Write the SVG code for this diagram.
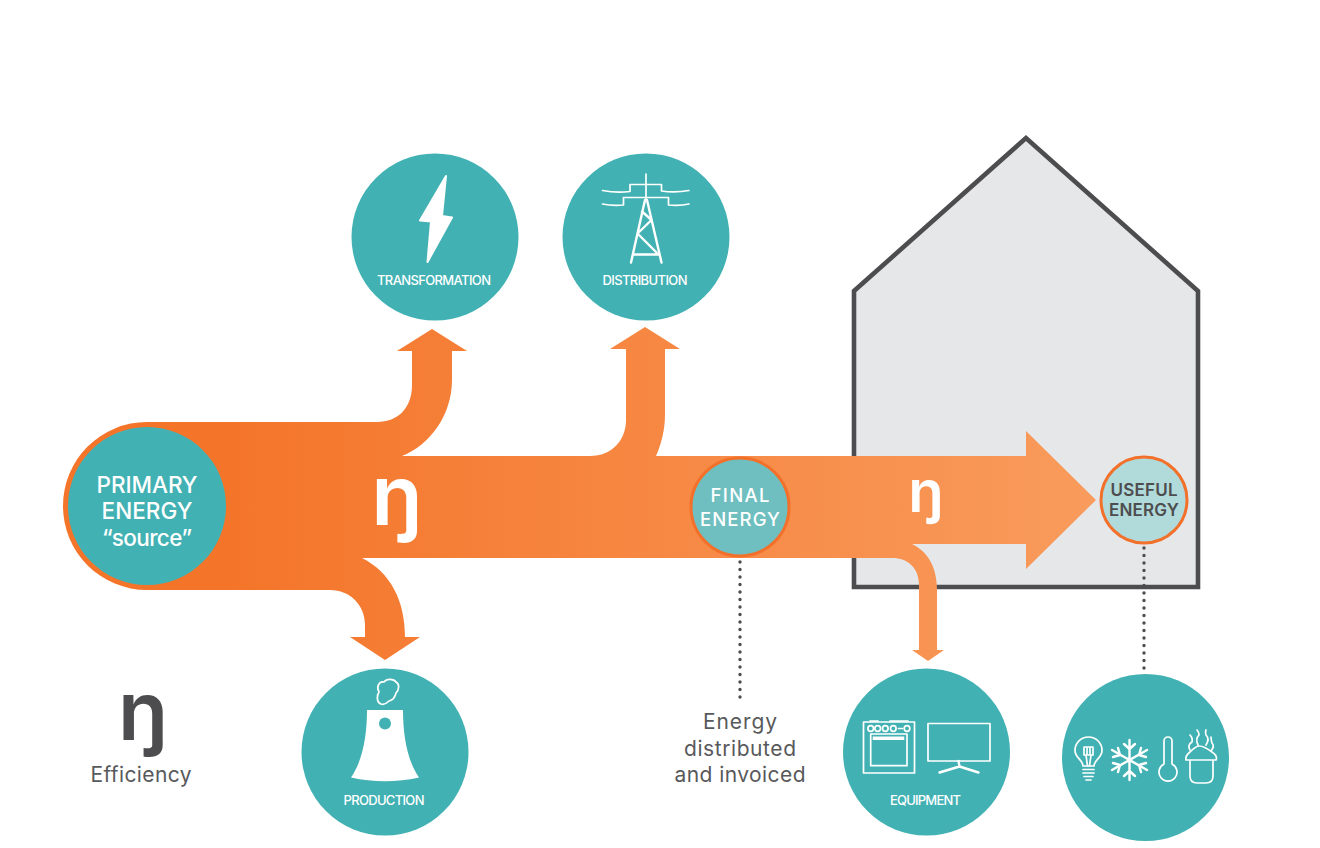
<svg xmlns="http://www.w3.org/2000/svg" width="1320" height="848" viewBox="0 0 1320 848">
<style>
text{font-family:"Inter","Noto Sans","Liberation Sans",sans-serif;text-anchor:middle}
.teal{fill:#42b1b3}
.w{fill:#fff}
.lab{fill:#fff;font-size:13px;font-weight:500}
.big{fill:#fff;font-size:22.500px;font-weight:500}
.mid{fill:#fff;font-size:18.500px;font-weight:500}
.use{fill:#4d4d4f;font-size:17px;font-weight:600}
.cap{fill:#58595b;font-size:21px}
.eta{font-weight:600}
.ln{fill:none;stroke:#fff;stroke-width:2.4;stroke-linecap:round;stroke-linejoin:round}
.thin{fill:none;stroke:#fff;stroke-width:1.7;stroke-linecap:round;stroke-linejoin:round}
.dots{fill:none;stroke:#4d4d4f;stroke-width:3.400;stroke-linecap:round;stroke-dasharray:0 7.5}
</style>
<defs>
<linearGradient id="flow" gradientUnits="userSpaceOnUse" x1="230" y1="0" x2="1090" y2="0">
<stop offset="0" stop-color="#f4752a"/><stop offset="1" stop-color="#f99b5c"/>
</linearGradient>
</defs>

<g id="house"><path d="M854 291L1026 138L1198 291V587H854Z" fill="#e6e7e8" stroke="#4d4d4f" stroke-width="4.600"/></g>

<g id="connectors">
<path d="M147 422H377C398 422 412 408 412 385V351H397L432 329L467 351H452V380C452 415 430 445 402 456H590C612 456 626 440 626 420V349H610L645 327L680 349H665V415C665 430 661 445 656 456H1026V431L1096 500L1026 569V544H912C928 552 937 567 937 590V650H944L928 661L912 650H919V585C919 568 908 558 892 558H362C390 572 405 600 405 637H420L385 660L350 637H365V625C365 605 350 590 330 590H147Z" fill="url(#flow)"/>
<path class="dots" d="M740 562V702"/>
<path class="dots" d="M1144 548V670"/>
</g>

<g id="primary-energy">
<circle cx="147" cy="506" r="84" fill="#f4752a"/>
<circle class="teal" cx="147" cy="506" r="79"/>
<text class="big" x="147" y="493" textLength="101">PRIMARY</text>
<text class="big" x="147" y="519" textLength="91">ENERGY</text>
<text class="big" x="147" y="546" textLength="90">“source”</text>
</g>

<g id="eta-1"><text class="eta w" x="397" y="525" font-size="84">ŋ</text></g>
<g id="eta-2"><text class="eta w" x="926" y="512" font-size="58">ŋ</text></g>

<g id="final-energy">
<circle cx="740" cy="507" r="49" fill="#6fbfc0" stroke="#f2702a" stroke-width="3"/>
<text class="mid" x="740" y="502" textLength="59">FINAL</text>
<text class="mid" x="740" y="526" textLength="80">ENERGY</text>
</g>

<g id="useful-energy">
<circle cx="1144" cy="500" r="43" fill="#b1dada" stroke="#f2702a" stroke-width="3"/>
<text class="use" x="1144" y="496" textLength="67">USEFUL</text>
<text class="use" x="1144" y="516" textLength="70">ENERGY</text>
</g>

<g id="transformation">
<circle class="teal" cx="435" cy="237" r="83.5"/>
<path class="w" stroke="#fff" stroke-width="2" stroke-linejoin="round" d="M446 176L420 220.5L431 221.5L427.5 262L452 217.5L442 216Z"/>
<text class="lab" x="434" y="285" textLength="114">TRANSFORMATION</text>
</g>

<g id="distribution">
<circle class="teal" cx="646" cy="237" r="83.5"/>
<path class="thin" stroke-width="2" d="M646 174V200M602.5 190.5Q616 193 630 191.5V184.5H661.5V191Q675 193 689 190.5M602.5 204Q612 206 623.5 205V197.5H668.5V205Q680 206 689 204"/>
<path class="ln" d="M645 200L631 262.500M647 200L661.500 262.500M633 254.500H659.500M642 211.500L651.500 220L637.500 233.500L656.500 252.500"/>
<text class="lab" x="645" y="285" textLength="85">DISTRIBUTION</text>
</g>

<g id="production">
<circle class="teal" cx="385" cy="752" r="83.5"/>
<path class="w" d="M367 710H403C403 735 407 760 419 777.500Q385 785 351 777.500C363 760 367 735 367 710Z"/>
<circle class="teal" cx="385" cy="723.500" r="6"/>
<path class="thin" stroke-width="2" d="M381 704C376 702 377 695 379 692C376 687 379 681 384 682C387 678 394 679 396 682C400 684 399 690 396 693C395 698 393 700 389 701C386 704 384 705 381 704Z"/>
<text class="lab" x="384" y="805" textLength="81">PRODUCTION</text>
</g>

<g id="equipment">
<circle class="teal" cx="926.500" cy="752" r="83.500"/>
<rect class="thin" x="863.500" y="722" width="51" height="51"/>
<path class="thin" d="M870 721H878M890 721H908M898.500 728.500H902.500"/>
<g class="thin" stroke-width="1.300"><circle cx="870.700" cy="728.500" r="2.800"/><circle cx="877.700" cy="728.500" r="2.800"/><circle cx="885.300" cy="728.500" r="2.800"/><circle cx="893.300" cy="728.500" r="2.800"/><circle cx="907" cy="728.500" r="2.800"/></g>
<rect class="thin" x="870.700" y="734" width="36.300" height="31.700"/>
<rect class="w" x="872.700" y="736.500" width="31.600" height="3.500"/>
<rect class="thin" x="928" y="723.500" width="62" height="37.500"/>
<path class="ln" d="M958.500 761L959.500 766.500M939.500 772.500L959.500 766.500L978.500 772.500"/>
<text class="lab" x="925.500" y="805" textLength="71">EQUIPMENT</text>
</g>

<g id="useful-uses">
<circle class="teal" cx="1145.500" cy="757.500" r="83.500"/>
<path class="thin" d="M1083 766C1083 760 1075 758 1075 750.500A13.500 13.500 0 0 1 1102 750.500C1102 758 1094 760 1094 766Z"/>
<path class="thin" stroke-width="1.300" d="M1084 747H1093V755H1084ZM1087 747V755M1090 747V755M1086 755L1087.500 766M1091 755L1089.500 766"/>
<path class="thin" d="M1083 769.500H1094M1083 773H1094M1084 776.500H1093M1086 780H1091"/>
<g class="ln"><path d="M1129.500 740V780M1112 750L1147 770M1112 770L1147 750"/>
<path d="M1124 744L1129.500 749L1135 744M1124 776L1129.500 771L1135 776M1113 757L1120 755L1118 748M1146 757L1139 755L1141 748M1113 763L1120 765L1118 772M1146 763L1139 765L1141 772"/></g>
<path class="thin" d="M1164 764V741A4 4 0 0 1 1172 741V764A9 9 0 1 1 1164 764Z"/>
<path class="thin" d="M1190 760V776Q1190 783 1197 783H1206Q1213 783 1213 776V760M1186 760Q1185 756 1190 752Q1196 746 1199 746Q1204 746 1212 752Q1218 756 1216 760Z"/>
<path class="thin" stroke-width="1.500" d="M1190 750Q1187 745 1192 742Q1193 738 1190 735M1198 745Q1195 739 1199 735Q1199 732 1197 730M1206 745Q1210 739 1206 735Q1205 732 1206 730M1211 751Q1215 746 1212 743Q1211 740 1211 737"/>
</g>

<g id="caption"><text class="cap" x="740" y="729" textLength="74">Energy</text>
<text class="cap" x="740" y="756" textLength="112">distributed</text>
<text class="cap" x="740" y="782" textLength="131">and invoiced</text></g>

<g id="legend">
<text class="eta" x="143" y="740" font-size="82" fill="#4d4d4f">ŋ</text>
<text class="cap" x="141" y="782" textLength="101">Efficiency</text>
</g>
</svg>
